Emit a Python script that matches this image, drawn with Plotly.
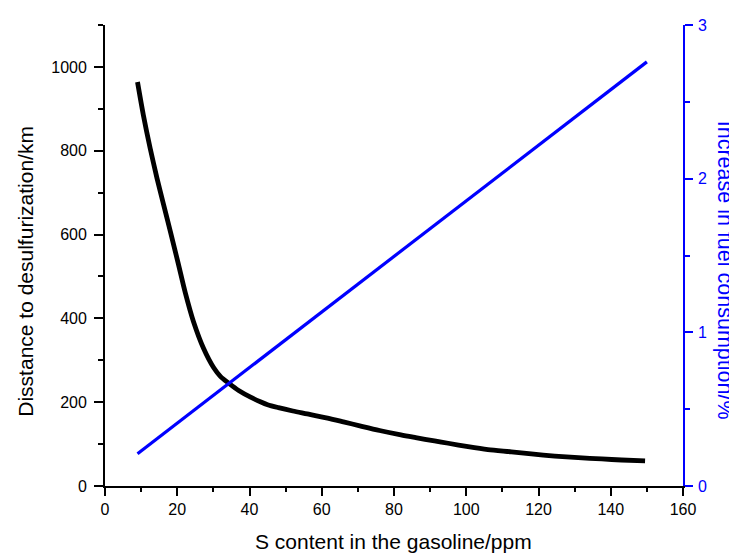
import plotly.graph_objects as go

# Black curve: distance to desulfurization (km) vs S content (ppm)
s_ppm = [9, 10.6, 12.5, 14.4, 16.2, 18.1, 20.3, 22.2, 24.5, 27.3, 30.1, 32, 34.3,
         37, 40.3, 43, 45, 48, 52, 56, 61.6, 66, 70.8, 76, 81.9, 86, 91.2, 95,
         100.5, 106, 112.5, 118, 124.5, 131, 137.5, 143, 149.5]
distance_km = [964, 886, 806, 734, 672, 607, 530, 462, 392, 328, 282, 261, 245,
               228, 212, 201, 194, 187, 179, 172, 162, 153, 143, 132.5, 122, 115.5,
               107.5, 102, 94, 87, 81.5, 76.5, 71.5, 67.5, 64.5, 62, 60]

# Blue line: increase in fuel consumption (%) vs S content (ppm)
s_ppm_fuel = [9, 150]
fuel_increase = [0.21, 2.76]

x_title = "S content in the gasoline/ppm"
y_title = "Disstance to desulfurization/km"
y2_title = "Increase in fuel consumption/%"

FONT = "Liberation Sans, Arial, sans-serif"
BLUE = "#0000FF"

fig = go.Figure()
fig.add_trace(go.Scatter(x=s_ppm, y=distance_km, mode="lines",
                         line=dict(color="black", width=4.8, shape="spline", smoothing=0.8),
                         yaxis="y", showlegend=False))
fig.add_trace(go.Scatter(x=s_ppm_fuel, y=fuel_increase, mode="lines",
                         line=dict(color=BLUE, width=3.2),
                         yaxis="y2", showlegend=False))

# page body has an 8px margin: figure pixels = screen pixels - 8
OFF = 8
W, H = 737 - OFF, 556 - OFF
L, R, T, B = 105 - OFF, 54, 17 - OFF, 70
pw, ph = W - L - R, H - T - B

def px2paper_x(sx):
    return (sx - OFF - L) / pw

def px2paper_y(sy):
    return (H - B - (sy - OFF)) / ph

fig.update_layout(
    width=W, height=H,
    margin=dict(l=L, r=R, t=T, b=B, pad=0),
    paper_bgcolor="white", plot_bgcolor="white",
    font=dict(family=FONT, size=16, color="black"),
    xaxis=dict(range=[0, 160], dtick=20, tick0=0, showgrid=False, zeroline=False,
               showline=True, linecolor="black", linewidth=1.8,
               ticks="outside", ticklen=8, tickwidth=1.6, tickcolor="black",
               minor=dict(dtick=10, ticks="outside", ticklen=4, tickwidth=1.6, tickcolor="black"),
               tickfont=dict(size=16, color="black"), anchor="y"),
    yaxis=dict(range=[0, 1100], dtick=200, tick0=0, showgrid=False, zeroline=False,
               showline=True, linecolor="black", linewidth=1.8,
               ticks="outside", ticklen=9, tickwidth=1.6, tickcolor="black",
               minor=dict(dtick=100, ticks="outside", ticklen=5, tickwidth=1.6, tickcolor="black"),
               tickfont=dict(size=16, color="black"), ticklabelstandoff=4),
    yaxis2=dict(range=[0, 3], dtick=1, tick0=0, overlaying="y", side="right", anchor="x",
                showgrid=False, zeroline=False,
                showline=True, linecolor=BLUE, linewidth=1.8,
                ticks="outside", ticklen=8, tickwidth=1.6, tickcolor=BLUE,
                minor=dict(dtick=0.5, ticks="outside", ticklen=5, tickwidth=1.6, tickcolor=BLUE),
                tickfont=dict(size=16, color=BLUE), ticklabelstandoff=2),
    annotations=[
        dict(text=x_title, xref="paper", yref="paper",
             x=px2paper_x(393), y=px2paper_y(542), xanchor="center", yanchor="middle",
             showarrow=False, font=dict(family=FONT, size=21, color="black")),
        dict(text=y_title, xref="paper", yref="paper", textangle=-90,
             x=px2paper_x(26), y=px2paper_y(268), xanchor="center", yanchor="middle",
             showarrow=False, font=dict(family=FONT, size=21, color="black")),
        dict(text=y2_title, xref="paper", yref="paper", textangle=90,
             x=px2paper_x(725), y=px2paper_y(266), xanchor="center", yanchor="middle",
             showarrow=False, font=dict(family=FONT, size=21.5, color=BLUE)),
    ],
)

fig.write_html("out.html")
